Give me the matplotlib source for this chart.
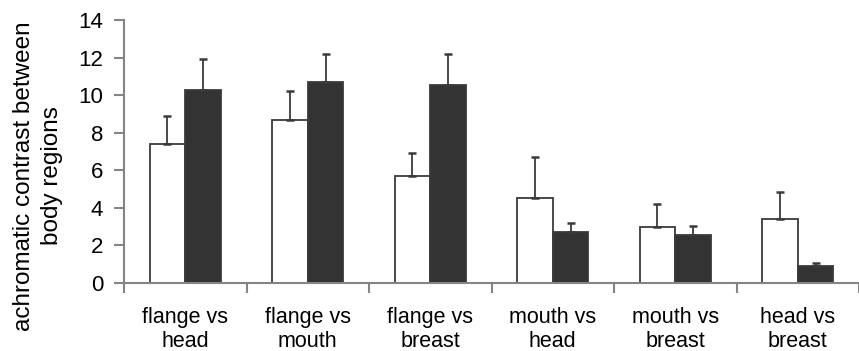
import matplotlib.pyplot as plt
import numpy as np

plt.rcParams["font.family"] = ["Liberation Sans", "DejaVu Sans"]

# ----------------------------- data -----------------------------
CATEGORIES = ["flange vs\nhead", "flange vs\nmouth", "flange vs\nbreast",
              "mouth vs\nhead", "mouth vs\nbreast", "head vs\nbreast"]
WHITE_MEAN = [7.4, 8.7, 5.7, 4.5, 3.0, 3.4]
WHITE_ERR = [1.5, 1.5, 1.2, 2.2, 1.2, 1.45]
BLACK_MEAN = [10.3, 10.7, 10.55, 2.7, 2.55, 0.9]
BLACK_ERR = [1.65, 1.5, 1.65, 0.5, 0.5, 0.17]

YLABEL = "achromatic contrast between\nbody regions"
OUT_PNG = "out.png"


def main():
    fig = plt.figure(figsize=(8.59, 3.51), dpi=100)
    ax = fig.add_axes([124 / 859, 1 - 283 / 351, 1 - 124 / 859, (283 - 20) / 351])

    x = np.arange(len(CATEGORIES))
    w = 0.29
    edge = "#3a3a3a"
    err_kw = dict(ecolor="#3a3a3a", elinewidth=1.3, capsize=3.2, capthick=1.8)

    ax.bar(x - w / 2, WHITE_MEAN, w, color="white", edgecolor=edge, linewidth=1.3,
           yerr=[np.zeros(len(x)), WHITE_ERR], error_kw=err_kw, zorder=2)
    ax.bar(x + w / 2, BLACK_MEAN, w, color="#333333", edgecolor=edge, linewidth=1.3,
           yerr=[np.zeros(len(x)), BLACK_ERR], error_kw=err_kw, zorder=2)

    ax.set_xlim(-0.5, -0.5 + 735 / 124)
    ax.set_ylim(0, 14)
    ax.set_yticks(range(0, 15, 2))

    # category separators as the x ticks, labels centred on each group
    ax.set_xticks(np.arange(len(CATEGORIES) + 1) - 0.5)
    ax.set_xticklabels([])
    ax.set_xticks(x, minor=True)
    ax.set_xticklabels(CATEGORIES, minor=True, fontsize=15.5, linespacing=1.22)
    ax.tick_params(axis="x", which="minor", length=0, pad=17)

    spine_col = "#858585"
    for side in ("top", "right"):
        ax.spines[side].set_visible(False)
    for side in ("left", "bottom"):
        ax.spines[side].set_color(spine_col)
        ax.spines[side].set_linewidth(1.5)
    ax.tick_params(axis="both", which="major", color=spine_col, width=1.5,
                   length=7, labelsize=16)
    ax.tick_params(axis="y", pad=8)

    fig.text(38 / 859, 1 - 176 / 351, YLABEL, rotation=90, ha="center", va="center",
             multialignment="center", fontsize=17.5, linespacing=1.3)

    fig.savefig(OUT_PNG, dpi=100)


if __name__ == "__main__":
    main()
